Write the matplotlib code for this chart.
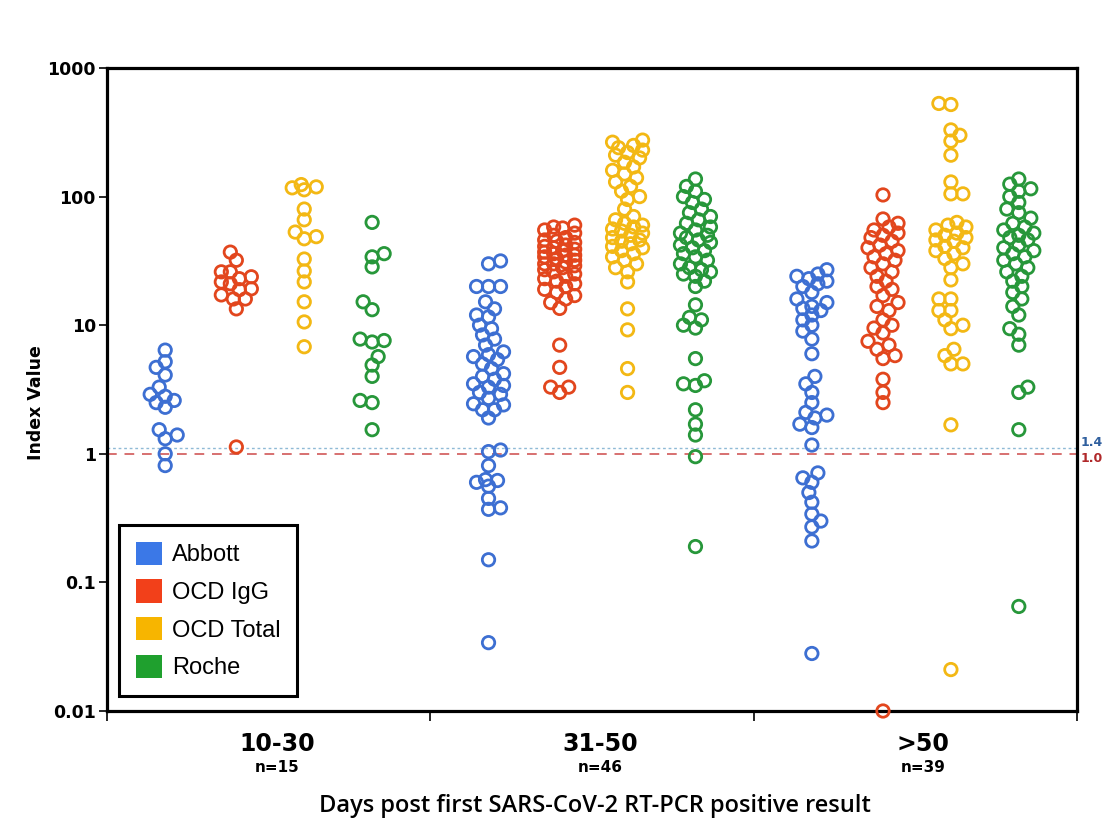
import numpy as np
import matplotlib.pyplot as plt
from matplotlib.patches import Patch
from matplotlib.transforms import blended_transform_factory

# days post first positive RT-PCR
groups = ['10-30', '31-50', '>50']
group_n = ['n=15', 'n=46', 'n=39']
assays = ['Abbott', 'OCD IgG', 'OCD Total', 'Roche']

# index values (one list per day group)
abbott = [
    [6.4, 5.2, 4.7, 4.1, 3.3, 2.9, 2.8, 2.5, 2.6, 2.3, 1.54, 1.4, 1.31, 1.0, 0.81],
    [30, 31.6, 20, 20, 20, 15.2, 13.4, 11.6, 12, 9.4, 10, 8.4, 7.8, 7.0, 6.2,
     5.9, 5.4, 5.7, 5.0, 4.6, 4.2, 4.0, 3.8, 3.4, 3.5, 3.3, 2.9, 3.0, 2.7,
     2.45, 2.4, 2.2, 2.2, 1.9, 1.04, 1.07, 0.81, 0.63, 0.62, 0.6, 0.56,
     0.45, 0.38, 0.37, 0.15, 0.034],
    [27, 25, 24, 23, 22, 21, 20, 18, 16, 15, 14, 13, 12, 11, 10, 9, 7.8, 6,
     4.0, 3.5, 3.0, 2.5, 2.1, 2.0, 1.9, 1.7, 1.6, 1.17, 0.71, 0.65, 0.6, 0.5,
     0.42, 0.34, 0.3, 0.27, 0.21, 0.028, 13.5],
]
ocd_igg = [
    [37, 32, 26, 26, 23.8, 23, 21.7, 21, 19.2, 18.9, 17.2, 16, 16, 13.4, 1.13],
    [60, 58, 57, 55, 52, 50, 48, 46, 45, 44, 42, 41, 40, 39, 38, 37, 36, 35,
     35, 34, 33, 32, 31, 30, 30, 29, 28, 27, 26, 25, 24, 23, 22, 21, 20, 19,
     18, 17, 16, 15, 13.5, 7.0, 4.7, 3.3, 3.0, 3.3],
    [103, 67, 62, 58, 55, 52, 50, 48, 45, 42, 40, 38, 36, 34, 32, 30, 28, 26,
     24, 22, 20, 19, 17, 15, 14, 13, 11, 10, 9.5, 8.7, 7.5, 7, 6.5, 5.8, 5.5,
     3.8, 3.0, 2.5, 0.01],
]
ocd_total = [
    [124, 113, 119, 117, 80, 66, 53, 48.8, 47, 32.7, 26.4, 21.7, 15.2, 10.6, 6.8],
    [275, 265, 250, 240, 230, 220, 210, 200, 185, 170, 160, 150, 140, 130,
     120, 110, 100, 95, 80, 70, 66, 62, 60, 58, 56, 54, 52, 50, 48, 46, 45,
     43, 41, 40, 38, 36, 34, 32, 30, 28, 26, 21.7, 13.4, 9.2, 4.6, 3.0],
    [530, 520, 330, 300, 270, 210, 130, 105, 105, 63, 60, 58, 55, 52, 50, 48,
     46, 45, 41, 40, 38, 36, 33, 30, 28, 22.5, 16, 16, 13, 13, 11, 10, 9.4,
     6.5, 5.8, 5.0, 5.0, 1.68, 0.021],
]
roche = [
    [63, 34, 36, 28.4, 15.2, 13.2, 7.4, 7.8, 7.6, 5.7, 4.9, 4.0, 2.6, 2.5, 1.54],
    [137, 120, 110, 100, 95, 90, 80, 75, 70, 66, 62, 58, 55, 52, 50, 48, 46,
     44, 42, 40, 38, 36, 34, 32, 30, 28, 27, 26, 25, 24, 22, 20, 14.4, 11.5,
     11, 10, 9.5, 5.5, 3.4, 3.5, 3.7, 2.2, 1.7, 1.4, 0.95, 0.19],
    [137, 125, 115, 110, 100, 90, 80, 75, 68, 62, 58, 55, 52, 50, 48, 46, 42,
     40, 38, 36, 34, 32, 30, 28, 26, 24, 22, 20, 18, 16, 14, 12, 9.4, 8.5, 7,
     3.3, 3.0, 1.54, 0.065],
]
series = [abbott, ocd_igg, ocd_total, roche]

edge_colors = ['#3d6fd2', '#e2461d', '#f3b814', '#27973a']
patch_colors = ['#3b78e7', '#f2401a', '#f7b500', '#1fa02e']
offsets = [-0.32, -0.10, 0.11, 0.32]

W, H = 1104, 825
fig = plt.figure(figsize=(W / 100, H / 100), dpi=100)
ax = fig.add_axes([107 / W, 1 - 711 / H, 970 / W, 643 / H])
ax.set_yscale('log')
ax.set_ylim(0.01, 1000)
ax.set_xlim(-0.5, 2.5)

px_x = 970 / 3.0          # pixels per group
px_dec = 643 / 5.0        # pixels per decade


def swarm(vals, diam=10.0, step=3.0, max_off=16.0):
    # simple overlap-avoiding jitter, in pixels
    ys = np.log10(np.asarray(vals, dtype=float)) * px_dec
    order = np.argsort(ys)
    xs = np.zeros(len(ys))
    placed = []
    for k, i in enumerate(order):
        sgn = 1 if k % 2 else -1
        cands = [0.0]
        for m in range(1, int(max_off / step) + 1):
            cands += [sgn * m * step, -sgn * m * step]
        best, best_pen = 0.0, None
        for c in cands:
            pen = 0.0
            for (px, py) in placed:
                d = np.hypot(c - px, ys[i] - py)
                if d < diam:
                    pen += diam - d
            if best_pen is None or pen < best_pen - 1e-9:
                best, best_pen = c, pen
        xs[i] = best
        placed.append((best, ys[i]))
    return xs / px_x


for s, data in enumerate(series):
    for g, vals in enumerate(data):
        x = g + offsets[s] + swarm(vals)
        ax.scatter(x, vals, s=80, facecolors='none', edgecolors=edge_colors[s],
                   linewidths=2.0, zorder=3, clip_on=False)

# cutoff lines
ax.axhline(1.1, color='#8fbad6', lw=1.0, ls=(0, (2, 2)), zorder=1)
ax.axhline(1.0, color='#d77070', lw=1.4, ls=(0, (5, 4)), zorder=1)
tr = blended_transform_factory(ax.transAxes, ax.transData)
ax.text(1.004, 1.22, '1.4', transform=tr, color='#2f5f9e', fontsize=9,
        fontweight='bold', va='center', ha='left', clip_on=False)
ax.text(1.004, 0.92, '1.0', transform=tr, color='#b0282a', fontsize=9,
        fontweight='bold', va='center', ha='left', clip_on=False)

for sp in ax.spines.values():
    sp.set_linewidth(2.3)
ax.set_yticks([0.01, 0.1, 1, 10, 100, 1000])
ax.set_yticklabels(['0.01', '0.1', '1', '10', '100', '1000'])
ax.minorticks_off()
ax.tick_params(axis='y', direction='out', length=6, width=1.2, pad=2,
               labelsize=12.5)
for t in ax.get_yticklabels():
    t.set_fontweight('bold')
ax.set_xticks([-0.5, 0.5, 1.5, 2.5])
ax.set_xticklabels([])
ax.tick_params(axis='x', direction='out', length=7, width=1.2)

trx = blended_transform_factory(ax.transData, ax.transAxes)
for g in range(3):
    ax.text(g + 0.025, -0.032, groups[g], transform=trx,
            ha='center', va='top', fontsize=17, fontweight='bold')
    ax.text(g + 0.025, -0.076, group_n[g], transform=trx,
            ha='center', va='top', fontsize=11, fontweight='bold')

ax.set_ylabel('Index Value', fontsize=12.5, fontweight='bold')
ax.yaxis.set_label_coords(-0.064, 0.48)
fig.text(595 / W, 1 - 806 / H, 'Days post first SARS-CoV-2 RT-PCR positive result',
         ha='center', va='center', fontsize=17, family='Open Sans',
         fontweight='semibold')

handles = [Patch(facecolor=c, edgecolor='none') for c in patch_colors]
leg = ax.legend(handles, assays, loc='lower left',
                bbox_to_anchor=(12 / 970, 15 / 643), borderaxespad=0,
                prop={'family': 'Liberation Sans', 'size': 17},
                handlelength=1.1, handleheight=1.15, handletextpad=0.45,
                labelspacing=0.55, borderpad=0.7, fancybox=False,
                framealpha=1, edgecolor='black')
leg.get_frame().set_linewidth(2.2)
leg.set_zorder(5)

fig.savefig('out.png', dpi=100)
